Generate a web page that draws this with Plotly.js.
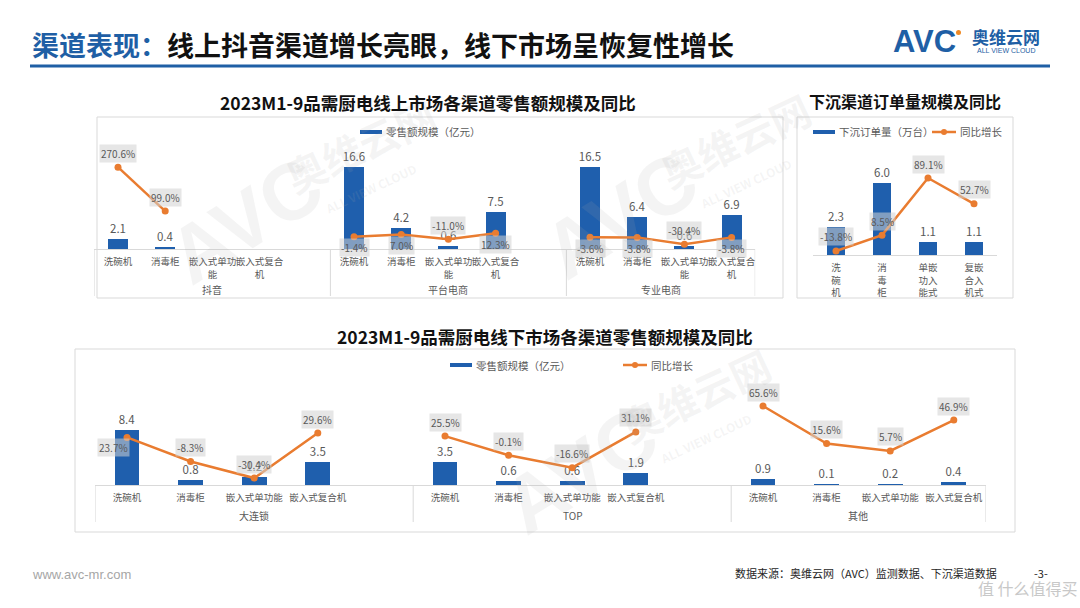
<!DOCTYPE html>
<html>
<head>
<meta charset="utf-8">
<script src="https://cdn.plot.ly/plotly-3.0.1.min.js"></script>
<style>html,body{margin:0;padding:0;background:#fff;}#chart{width:1080px;height:608px;}</style>
</head>
<body>
<div id="chart"></div>
<script>
// ---------------- data ----------------
const categories = ['洗碗机', '消毒柜', '嵌入式单功能', '嵌入式复合机'];
const onlineTickLabels = ['洗碗机', '消毒柜', '嵌入式单功<br>能', '嵌入式复合<br>机'];
const offlineTickLabels = ['洗碗机', '消毒柜', '嵌入式单功能', '嵌入式复合机'];
const sinkTickLabels = ['洗<br>碗<br>机', '消<br>毒<br>柜', '单嵌<br>功入<br>能式', '复嵌<br>合入<br>机式'];

const onlineGroups = ['抖音', '平台电商', '专业电商'];
const douyinSales = [2.1, 0.4, null, null];
const douyinYoY = [270.6, 99.0, null, null];
const platformSales = [16.6, 4.2, 0.6, 7.5];
const platformYoY = [-1.4, 7.0, -11.0, 12.3];
const specialtySales = [16.5, 6.4, 0.6, 6.9];
const specialtyYoY = [-3.6, -3.8, -30.4, -3.8];

const sinkOrders = [2.3, 6.0, 1.1, 1.1];
const sinkYoY = [-13.8, 8.5, 89.1, 52.7];

const offlineGroups = ['大连锁', 'TOP', '其他'];
const chainSales = [8.4, 0.8, 1.2, 3.5];
const chainYoY = [23.7, -8.3, -30.4, 29.6];
const topSales = [3.5, 0.6, 0.6, 1.9];
const topYoY = [25.5, -0.1, -16.6, 31.1];
const otherSales = [0.9, 0.1, 0.2, 0.4];
const otherYoY = [65.6, 15.6, 5.7, 46.9];

// label placement (style only)
const onlineLabelPos = [['t','t','t','t'], ['b','b','t','b'], ['b','b','t','b']];
const offlineLabelPos = [['l','t','t','t'], ['t','t','t','t'], ['t','t','t','t']];

// ---------------- helpers ----------------
const W = 1080, H = 608;
const px = v => v / W;
const py = v => 1 - v / H;
const FONT = 'Noto Sans CJK SC, Noto Sans, sans-serif';
const BLUE = '#1F5FAD';
const ORANGE = '#E97C30';
const GREY = '#595959';
const SLOTS = 5; // category slots per group (4 + spacer)
const PCT_BG = 'rgba(210,210,210,0.55)';
const shift = {t: {x: 0, y: 14}, b: {x: 0, y: -11}, l: {x: -14, y: -10}};

const traces = [];
const annotations = [];
const shapes = [];

function grouped(groups, salesArr, yoyArr, posArr, xa, ya, ya2, barWidth, tickLabels, groupY) {
  const bx = [], by = [], lx = [], ly = [], tv = [], tt = [];
  groups.forEach((g, gi) => {
    categories.forEach((c, ci) => {
      const x = gi * SLOTS + ci;
      tv.push(x); tt.push(tickLabels[ci]);
      bx.push(x); by.push(salesArr[gi][ci]);
      lx.push(x); ly.push(yoyArr[gi][ci]);
      const v = yoyArr[gi][ci];
      if (v !== null) {
        const s = shift[posArr[gi][ci]];
        annotations.push({xref: xa, yref: ya2, x: x, y: v, text: v.toFixed(1) + '%', showarrow: false,
          xanchor: 'center', yanchor: 'middle',
          xshift: s.x, yshift: s.y, bgcolor: PCT_BG, borderpad: 1,
          font: {family: FONT, size: 10, color: GREY}});
      }
    });
    lx.push(gi * SLOTS + categories.length); ly.push(null);
  });
  traces.push({type: 'bar', x: bx, y: by, xaxis: xa, yaxis: ya, width: barWidth,
    marker: {color: BLUE}, texttemplate: '%{y:.1f}', textposition: 'outside', constraintext: 'none',
    cliponaxis: false, textfont: {family: FONT, size: 11.5, color: GREY}, showlegend: false, hoverinfo: 'skip'});
  traces.push({type: 'scatter', mode: 'lines+markers', x: lx, y: ly, xaxis: xa, yaxis: ya2,
    line: {color: ORANGE, width: 2.5}, marker: {color: ORANGE, size: 7}, connectgaps: false,
    cliponaxis: false, showlegend: false, hoverinfo: 'skip'});
  // group labels
  groups.forEach((g, gi) => {
    const start = gi * SLOTS - 0.5;
    const end = gi < groups.length - 1 ? gi * SLOTS + SLOTS - 0.5 : gi * SLOTS + categories.length - 0.5;
    annotations.push({xref: xa, yref: 'paper', x: (start + end) / 2, y: py(groupY), text: g, showarrow: false,
      xanchor: 'center', yanchor: 'middle', font: {family: FONT, size: 10, color: GREY}});
  });
  return {tv: tv, tt: tt};
}

// ---------- online chart ----------
const onA = grouped(onlineGroups, [douyinSales, platformSales, specialtySales],
  [douyinYoY, platformYoY, specialtyYoY], onlineLabelPos, 'x', 'y', 'y2', 0.42, onlineTickLabels, 289);
// ---------- offline chart ----------
const onC = grouped(offlineGroups, [chainSales, topSales, otherSales],
  [chainYoY, topYoY, otherYoY], offlineLabelPos, 'x3', 'y5', 'y6', 0.39, offlineTickLabels, 515);

// dividers
[-0.5, 4.5, 9.5, 13.5].forEach(x => {
  shapes.push({type: 'line', xref: 'x', yref: 'paper', x0: x, x1: x, y0: py(249), y1: py(296), line: {color: '#D9D9D9', width: 1}});
  shapes.push({type: 'line', xref: 'x3', yref: 'paper', x0: x, x1: x, y0: py(485), y1: py(522), line: {color: '#D9D9D9', width: 1}});
});

// ---------- sink chart ----------
traces.push({type: 'bar', x: categories.map((c, i) => i), y: sinkOrders, xaxis: 'x2', yaxis: 'y3', width: 0.41,
  marker: {color: BLUE}, texttemplate: '%{y:.1f}', textposition: 'outside', constraintext: 'none', cliponaxis: false,
  textfont: {family: FONT, size: 11.5, color: GREY}, showlegend: false, hoverinfo: 'skip'});
traces.push({type: 'scatter', mode: 'lines+markers', x: categories.map((c, i) => i), y: sinkYoY, xaxis: 'x2', yaxis: 'y4',
  line: {color: ORANGE, width: 2.5}, marker: {color: ORANGE, size: 7}, cliponaxis: false, showlegend: false, hoverinfo: 'skip'});
sinkYoY.forEach((v, i) => {
  annotations.push({xref: 'x2', yref: 'y4', x: i, y: v, text: v.toFixed(1) + '%', showarrow: false, yshift: 14,
    xanchor: 'center', yanchor: 'middle',
    bgcolor: PCT_BG, borderpad: 1, font: {family: FONT, size: 10, color: GREY}});
});

// ---------- boxes ----------
const box = (x0, y0, x1, y1) => shapes.push({type: 'rect', xref: 'paper', yref: 'paper', x0: px(x0), x1: px(x1),
  y0: py(y1), y1: py(y0), line: {color: '#D9D9D9', width: 1}, fillcolor: 'rgba(0,0,0,0)', layer: 'below'});
box(97, 117, 783, 298);
box(797, 117, 1013, 298);
box(75, 349, 1015, 532);

// ---------- text helper ----------
const txt = (x, y, text, size, color, opts) => annotations.push(Object.assign({xref: 'paper', yref: 'paper',
  x: px(x), y: py(y), text: text, showarrow: false, xanchor: 'center', yanchor: 'middle',
  font: {family: FONT, size: size, color: color}}, opts || {}));

// ---------- manual legends ----------
function legBar(x, y, label) {
  shapes.push({type: 'rect', xref: 'paper', yref: 'paper', x0: px(x), x1: px(x + 22), y0: py(y + 2), y1: py(y - 2),
    fillcolor: BLUE, line: {width: 0}});
  txt(x + 24, y, label, 10.5, GREY, {xanchor: 'left'});
}
function legLine(x, y, label) {
  shapes.push({type: 'line', xref: 'paper', yref: 'paper', x0: px(x), x1: px(x + 24), y0: py(y), y1: py(y),
    line: {color: ORANGE, width: 2.5}});
  shapes.push({type: 'circle', xref: 'paper', yref: 'paper', x0: px(x + 9), x1: px(x + 15), y0: py(y + 3), y1: py(y - 3),
    fillcolor: ORANGE, line: {width: 0}});
  txt(x + 26, y, label, 10.5, GREY, {xanchor: 'left'});
}
legBar(360, 132, '零售额规模（亿元）');
legBar(813, 132, '下沉订单量（万台）');
legLine(932, 132, '同比增长');
legBar(450, 365, '零售额规模（亿元）');
legLine(623, 365, '同比增长');

// ---------- watermarks ----------
const WM = 'rgba(170,170,170,0.13)';
[[245, 220], [620, 215], [580, 470]].forEach(p => {
  txt(p[0], p[1], '<b>AVC</b>', 80, WM, {textangle: -32, font: {family: 'Liberation Sans, sans-serif', size: 80, color: WM}});
  txt(p[0] + 115, p[1] - 75, '<b>奥维云网</b>', 40, WM, {textangle: -25});
  txt(p[0] + 125, p[1] - 32, '<b>ALL VIEW CLOUD</b>', 12, WM, {textangle: -25});
});

// ---------- titles & page text ----------
txt(30, 44, '<b><span style="color:#1F5FA5">渠道表现：</span>线上抖音渠道增长亮眼，线下市场呈恢复性增长</b>', 27, '#111', {xanchor: 'left'});
shapes.push({type: 'line', xref: 'paper', yref: 'paper', x0: px(30), x1: px(1050), y0: py(66), y1: py(66), line: {color: '#1F5FA5', width: 3}});
txt(924, 41, '<b>AVC</b>', 30, '#1F5FA5', {font: {family: 'Liberation Sans, sans-serif', size: 31, color: '#1F5FA5'}});
shapes.push({type: 'circle', xref: 'paper', yref: 'paper', x0: px(956), x1: px(961), y0: py(35), y1: py(30), fillcolor: '#F08A24', line: {width: 0}});
txt(1006, 36, '<b>奥维云网</b>', 17, '#1F5FA5');
txt(1006, 51, 'ALL VIEW CLOUD', 7, '#1F5FA5', {font: {family: 'Liberation Sans, sans-serif', size: 7, color: '#1F5FA5'}});

txt(428, 102, '<b>2023M1-9品需厨电线上市场各渠道零售额规模及同比</b>', 17.5, '#111');
txt(905, 101, '<b>下沉渠道订单量规模及同比</b>', 16, '#111');
txt(545, 336, '<b>2023M1-9品需厨电线下市场各渠道零售额规模及同比</b>', 17.5, '#111');

txt(30, 574, 'www.avc-mr.com', 13, '#A6A6A6', {xanchor: 'left', font: {family: 'Liberation Sans, sans-serif', size: 13, color: '#A6A6A6'}});
txt(733, 573, '数据来源：奥维云网（AVC）监测数据、下沉渠道数据', 11, '#262626', {xanchor: 'left'});
txt(1041, 573, '-3-', 11, '#262626');
txt(1028, 588, '值 什么值得买', 16, '#C8C8C8');

// ---------------- layout ----------------
const xBase = {showline: true, linecolor: '#D9D9D9', linewidth: 1, showgrid: false, zeroline: false, ticks: '',
  ticklabelstandoff: 4, tickangle: 0, tickfont: {family: FONT, size: 9.5, color: GREY}, fixedrange: true, tickmode: 'array'};
const layout = {
  width: W, height: H, margin: {l: 0, r: 0, t: 0, b: 0}, paper_bgcolor: '#fff', plot_bgcolor: 'rgba(0,0,0,0)',
  showlegend: false, bargap: 0, font: {family: FONT},
  xaxis: Object.assign({}, xBase, {domain: [px(94.4), px(755.2)], range: [-0.5, 13.5], anchor: 'y', tickvals: onA.tv, ticktext: onA.tt}),
  yaxis: {domain: [py(249), py(140)], range: [0, 22.02], visible: false, anchor: 'x', fixedrange: true},
  yaxis2: {overlaying: 'y', anchor: 'x', range: [-49.2, 376.6], visible: false, fixedrange: true},
  xaxis2: Object.assign({}, xBase, {domain: [px(813), px(997)], range: [-0.5, 3.5], anchor: 'y3',
    tickvals: categories.map((c, i) => i), ticktext: sinkTickLabels}),
  yaxis3: {domain: [py(255), py(150)], range: [0, 8.75], visible: false, anchor: 'x2', fixedrange: true},
  yaxis4: {overlaying: 'y3', anchor: 'x2', range: [-19.5, 128.6], visible: false, fixedrange: true},
  xaxis3: Object.assign({}, xBase, {domain: [px(95.2), px(985.6)], range: [-0.5, 13.5], anchor: 'y5', tickvals: onC.tv, ticktext: onC.tt}),
  yaxis5: {domain: [py(485), py(380)], range: [0, 16.03], visible: false, anchor: 'x3', fixedrange: true},
  yaxis6: {overlaying: 'y5', anchor: 'x3', range: [-39.7, 100.3], visible: false, fixedrange: true},
  annotations: annotations, shapes: shapes
};
Plotly.newPlot('chart', traces, layout, {displayModeBar: false, staticPlot: true});
</script>
</body>
</html>
